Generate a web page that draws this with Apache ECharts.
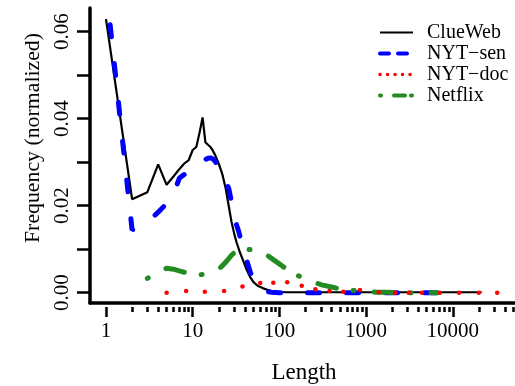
<!DOCTYPE html>
<html><head><meta charset="utf-8">
<script src="https://cdn.jsdelivr.net/npm/echarts@6/dist/echarts.min.js"></script>
<style>html,body{margin:0;padding:0;background:#fff}#c{width:515px;height:386px}</style>
</head><body><div id="c"></div>
<script>
const FONT = '"Liberation Serif", "Times New Roman", serif';

// ---- data (length, normalized frequency) ----
const clueLen  = [1,2,3,4,5,6,7,8,9,10,11,12,13,14,15,16,17,18,19,20,22,24,26,28,30,32,35,38,42,46,50,56,65,80,93,120,200,500,1000,3000,10000,21500];
const clueFreq = [0.0629,0.0215,0.0231,0.0295,0.0248,0.0267,0.0284,0.0297,0.0305,0.0328,0.0335,0.0368,0.0403,0.0346,0.0340,0.0335,0.0327,0.0318,0.0307,0.0296,0.0272,0.0240,0.0200,0.0163,0.0137,0.0116,0.0093,0.0075,0.0052,0.0036,0.0025,0.0016,0.0010,0.0004,0.0002,0.0001,0.0001,0.0001,0.0001,0.0001,0.0001,0.0001];

const senLen  = [1,2,3,4,5,6,7,8,9,10,11,12,13,14,15,16,17,18,20,22,24,26,28,30,32,34,36,38,40,42,46,50,55,60,70,80,100,200,500,1000,3000,11500];
const senFreq = [0.0705,0.0144,0.0163,0.0185,0.0205,0.0226,0.0263,0.0272,0.0279,0.0283,0.0287,0.0294,0.0300,0.0306,0.0309,0.0310,0.0308,0.0303,0.0290,0.0274,0.0256,0.0240,0.0209,0.0182,0.0156,0.0140,0.0121,0.0104,0.0088,0.0074,0.0048,0.0029,0.0017,0.0010,0.0003,0.0001,0,0,0,0,0,0];

const docLen  = [5,8.4,13.8,23,37.5,60,85,123,181,260,378,546,850,1400,2150,3100,4400,7100,11800,19900,32500];
const docFreq = [0.0000,0.0004,0.0002,0.0004,0.0014,0.0022,0.0023,0.0024,0.0016,0.0008,0.0004,0.0002,0.0006,0.0001,0,0,0,0,0,0,0];

const netLen  = [3,4,5,6,7,8,10,12,14,16,18,20,22,25,28,32,36,40,45,50,57,65,75,85,97,110,130,150,173,200,246,306,400,540,710,930,1300,1700,2250,3000,4200,5700,6700];
const netFreq = [0.0033,0.0048,0.0056,0.0054,0.0050,0.0047,0.0043,0.0041,0.0043,0.0046,0.0050,0.0055,0.0062,0.0074,0.0086,0.0097,0.0100,0.0100,0.0099,0.0100,0.0097,0.0091,0.0084,0.0076,0.0068,0.0060,0.0050,0.0043,0.0037,0.0031,0.0025,0.0018,0.0013,0.0007,0.0005,0.0004,0.0001,0.0001,0,0,0,0,0];

const seriesNames = ['ClueWeb','NYT\u2212sen','NYT\u2212doc','Netflix'];
const xMajorExp = [0,1,2,3,4];
const yTicks = [0,0.01,0.02,0.03,0.04,0.05,0.06];
const yLabels = [0,0.02,0.04,0.06];
const xTitle = 'Length';
const yTitle = 'Frequency (normalized)';

// ---- axis extents (log10 of length on x) ----
const xMin = -0.1845, xMax = 4.717, yMin = -0.00237, yMax = 0.06545;
const xMinor = [];
for (let d = 0; d <= 4; d++) for (let k = 2; k <= 9; k++) {
  const v = d + Math.log10(k); if (v < xMax - 0.01) xMinor.push(v);
}
const toPairs = (xs, ys) => xs.map((x, i) => [Math.log10(x), ys[i]]);
const baseX = {type:'value', min:xMin, max:xMax, position:'bottom', splitLine:{show:false}};
const noSym = {opacity:0};

const chart = echarts.init(document.getElementById('c'), null, {renderer:'canvas'});
chart.setOption({
  animation:false,
  grid:{left:90, right:0, top:8, bottom:83, containLabel:false},
  xAxis:[
    Object.assign({}, baseX, {axisLine:{show:true, onZero:false, lineStyle:{color:'#000', width:3.5}}, axisTick:{show:false}, axisLabel:{show:false}}),
    Object.assign({}, baseX, {offset:4, axisLine:{show:false, onZero:false},
      axisTick:{show:true, length:10, customValues:xMajorExp, lineStyle:{color:'#000', width:2.5}},
      axisLabel:{show:true, customValues:xMajorExp, formatter:v => String(Math.round(Math.pow(10, v))), fontFamily:FONT, fontSize:21, color:'#000', margin:14}}),
    Object.assign({}, baseX, {offset:4, axisLine:{show:false, onZero:false},
      axisTick:{show:true, length:5, customValues:xMinor, lineStyle:{color:'#000', width:2.5}},
      axisLabel:{show:false}})
  ],
  yAxis:{type:'value', min:yMin, max:yMax, splitLine:{show:false},
    axisLine:{show:true, onZero:false, lineStyle:{color:'#000', width:3.5}},
    axisTick:{show:true, length:13, customValues:yTicks, lineStyle:{color:'#000', width:2.5}},
    axisLabel:{show:true, customValues:yLabels, rotate:90, formatter:v => v.toFixed(2), fontFamily:FONT, fontSize:21, color:'#000', margin:17}},
  legend:{orient:'vertical', left:378, top:22, padding:0, itemWidth:33, itemHeight:14, itemGap:0,
    textStyle:{fontFamily:FONT, fontSize:20, color:'#000', lineHeight:21, padding:[0,0,0,9]},
    data:[
      {name:seriesNames[0], lineStyle:{color:'#000', width:2}, itemStyle:noSym},
      {name:seriesNames[1], lineStyle:{color:'#00f', width:4, type:[9,9], cap:'round'}, itemStyle:noSym},
      {name:seriesNames[2], lineStyle:{color:'#f00', width:3.5, type:[0.1,7.4], cap:'round', opacity:1}, itemStyle:noSym},
      {name:seriesNames[3], lineStyle:{color:'#228b22', width:4, type:[1,13,11,6], cap:'round'}, itemStyle:noSym}
    ]},
  graphic:[
    {type:'text', x:304, y:373, silent:true, style:{text:xTitle, fontFamily:FONT, fontSize:23, fill:'#000', align:'center', verticalAlign:'middle', textAlign:'center', textVerticalAlign:'middle'}},
    {type:'text', x:33, y:138, rotation:Math.PI/2, silent:true, style:{text:yTitle, fontFamily:FONT, fontSize:21.8, fill:'#000', align:'center', verticalAlign:'middle', textAlign:'center', textVerticalAlign:'middle'}}
  ],
  series:[
    {name:seriesNames[0], type:'line', data:toPairs(clueLen, clueFreq), symbol:'none', itemStyle:{color:'#000'}, lineStyle:{color:'#000', width:2.2}},
    {name:seriesNames[1], type:'line', data:toPairs(senLen, senFreq), symbol:'none', itemStyle:{color:'#00f'}, lineStyle:{color:'#00f', width:5, type:[12,27], cap:'round'}},
    {name:seriesNames[2], type:'line', data:toPairs(docLen, docFreq), symbol:'circle', symbolSize:4.5, showSymbol:true, showAllSymbol:true, itemStyle:{color:'#f00'}, lineStyle:{color:'#f00', width:0, opacity:0}},
    {name:seriesNames[3], type:'line', data:toPairs(netLen, netFreq), symbol:'none', itemStyle:{color:'#228b22'}, lineStyle:{color:'#228b22', width:5, type:[1,20,19,17], cap:'round'}}
  ]
});
</script>
</body></html>
